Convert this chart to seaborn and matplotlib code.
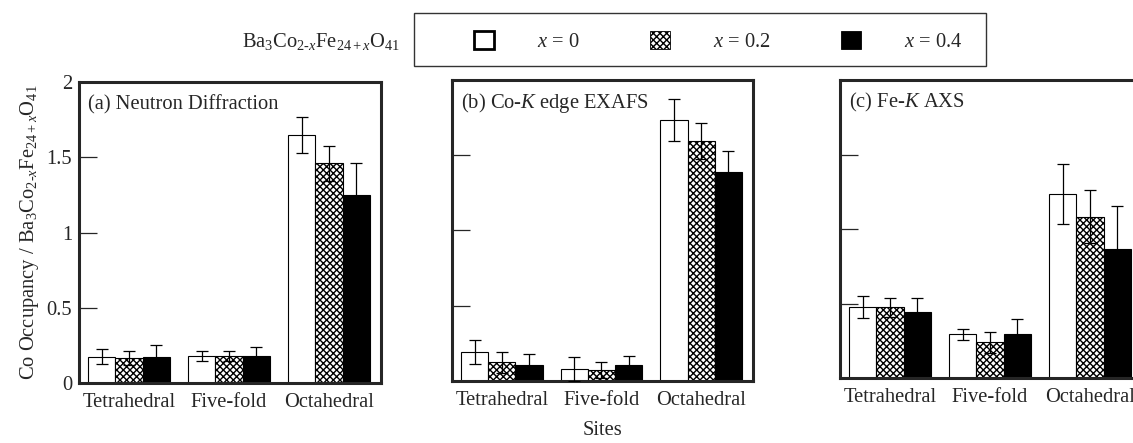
import pandas as pd
import seaborn as sns
import matplotlib.pyplot as plt
from matplotlib.patches import Patch, Rectangle

# data
sites = ['Tetrahedral', 'Five-fold', 'Octahedral']
compositions = ['x=0', 'x=0.2', 'x=0.4']
legend_labels = ['$x$ = 0', '$x$ = 0.2', '$x$ = 0.4']

neutron_x0 = [0.175, 0.18, 1.65]
neutron_x02 = [0.165, 0.18, 1.46]
neutron_x04 = [0.175, 0.18, 1.25]
neutron_err_x0 = [0.05, 0.035, 0.12]
neutron_err_x02 = [0.045, 0.035, 0.115]
neutron_err_x04 = [0.075, 0.06, 0.21]

exafs_x0 = [0.19, 0.078, 1.735]
exafs_x02 = [0.124, 0.073, 1.593]
exafs_x04 = [0.104, 0.106, 1.387]
exafs_err_x0 = [0.08, 0.08, 0.14]
exafs_err_x02 = [0.07, 0.05, 0.12]
exafs_err_x04 = [0.075, 0.06, 0.14]

axs_x0 = [0.477, 0.293, 1.233]
axs_x02 = [0.475, 0.24, 1.083]
axs_x04 = [0.445, 0.293, 0.864]
axs_err_x0 = [0.075, 0.035, 0.2]
axs_err_x02 = [0.065, 0.07, 0.18]
axs_err_x04 = [0.095, 0.105, 0.29]

yticks = [0, 0.5, 1, 1.5, 2]
ytick_labels = ['0', '0.5', '1', '1.5', '2']

sns.set_theme(style='ticks')
plt.rcParams['font.family'] = ['Liberation Serif', 'DejaVu Serif']
plt.rcParams['mathtext.fontset'] = 'custom'
plt.rcParams['mathtext.rm'] = 'Liberation Serif'
plt.rcParams['mathtext.it'] = 'Liberation Serif:italic'
plt.rcParams['hatch.linewidth'] = 1.0
plt.rcParams['hatch.color'] = 'black'
FS = 14.8
HATCH = 'xxxxx'


def make_df(v0, v2, v4):
    rows = []
    for comp, vals in zip(compositions, [v0, v2, v4]):
        for s, v in zip(sites, vals):
            rows.append({'site': s, 'comp': comp, 'value': v})
    return pd.DataFrame(rows)


panels = [
    ('(a) Neutron Diffraction', make_df(neutron_x0, neutron_x02, neutron_x04),
     [neutron_err_x0, neutron_err_x02, neutron_err_x04], [0.0697, 0.1354, 0.2666, 0.6795]),
    ('(b) Co-$K$ edge EXAFS', make_df(exafs_x0, exafs_x02, exafs_x04),
     [exafs_err_x0, exafs_err_x02, exafs_err_x04], [0.3989, 0.1400, 0.2657, 0.6795]),
    ('(c) Fe-$K$ AXS', make_df(axs_x0, axs_x02, axs_x04),
     [axs_err_x0, axs_err_x02, axs_err_x04], [0.7414, 0.1467, 0.2666, 0.6727]),
]

fig = plt.figure(figsize=(11.33, 4.43), dpi=100)

for i, (title, df, errs, rect) in enumerate(panels):
    ax = fig.add_axes(rect)
    sns.barplot(data=df, x='site', y='value', hue='comp', hue_order=compositions,
                palette=['white', 'white', 'black'], saturation=1, width=0.82,
                edgecolor='black', linewidth=0.8, legend=False, ax=ax)
    bars = list(ax.containers)
    for p in bars[1]:
        p.set_hatch(HATCH)
    for cont, vals_err in zip(bars, errs):
        xs = [p.get_x() + p.get_width() / 2 for p in cont]
        hs = [p.get_height() for p in cont]
        ax.errorbar(xs, hs, yerr=vals_err, fmt='none', ecolor='black',
                    elinewidth=0.9, capsize=4.3, capthick=0.9, zorder=4)
    ax.set_ylim(0, 2)
    ax.set_xlim(-0.5, 2.52)
    ax.set_yticks(yticks)
    if i == 0:
        ax.set_yticklabels(ytick_labels, fontsize=FS)
        ax.set_ylabel(r'Co Occupancy / Ba$_3$Co$_{2\text{-}x}$Fe$_{24+x}$O$_{41}$',
                      fontsize=FS, labelpad=4)
    else:
        ax.set_yticklabels([])
        ax.set_ylabel('')
    if i == 1:
        ax.set_xlabel('Sites', fontsize=FS, labelpad=8)
    else:
        ax.set_xlabel('')
    ax.tick_params(axis='y', direction='in', length=13, width=0.9, pad=5)
    ax.tick_params(axis='x', length=0, pad=7, labelsize=FS)
    for sp in ax.spines.values():
        sp.set_visible(True)
        sp.set_linewidth(2.2)
    ax.text(0.03, 0.924, title, transform=ax.transAxes, fontsize=FS,
            ha='left', va='center')

# legend strip at top
fig.text(400 / 1133, 1 - 41 / 443, r'Ba$_3$Co$_{2\text{-}x}$Fe$_{24+x}$O$_{41}$',
         ha='right', va='center', fontsize=FS)
fig.add_artist(Rectangle((414 / 1133, 1 - 66 / 443), (986 - 414) / 1133, 53.3 / 443,
                         transform=fig.transFigure, fill=False, lw=1.0, edgecolor='#333333'))
handles = [
    Patch(facecolor='white', edgecolor='black', linewidth=2.0),
    Patch(facecolor='white', edgecolor='black', linewidth=0.6, hatch=HATCH),
    Patch(facecolor='black', edgecolor='black', linewidth=0.6),
]
fig.legend(handles, legend_labels, loc='center left',
           bbox_to_anchor=(474 / 1133, 1 - 41.5 / 443), ncol=3, frameon=False,
           fontsize=FS, handlelength=0.95, handleheight=0.95, handletextpad=2.1,
           columnspacing=3.45, borderpad=0, borderaxespad=0)

fig.savefig('out.png', dpi=100)
